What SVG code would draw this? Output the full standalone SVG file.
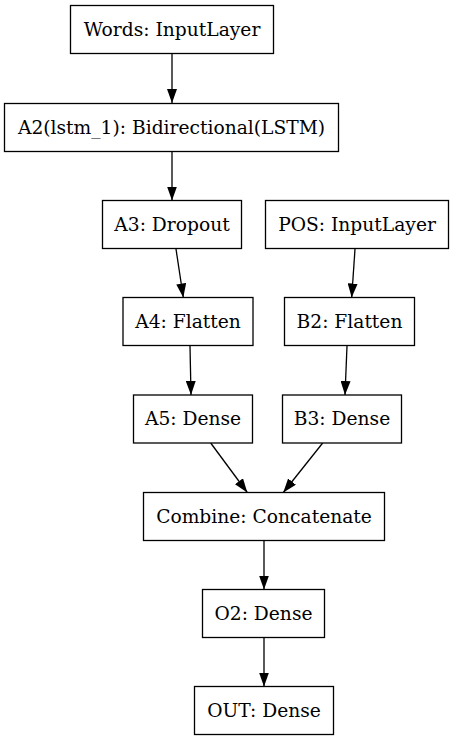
<svg xmlns="http://www.w3.org/2000/svg" width="454" height="741" viewBox="0 0 454 741">
<style>
.n rect{fill:#fff;stroke:#000;stroke-width:1.3}
.n text{font-family:"DejaVu Serif",serif;font-size:18.67px;text-anchor:middle;fill:#000}
#edges path{stroke:#000;stroke-width:1.3;fill:none;marker-end:url(#ah)}
</style>
<defs>
<marker id="ah" viewBox="0 0 14 10" refX="14" refY="5" markerWidth="14" markerHeight="10" markerUnits="userSpaceOnUse" orient="auto">
<path d="M0,0 L14,5 L0,10 z" fill="#000"/>
</marker>
</defs>
<rect width="454" height="741" fill="#fff"/>
<g id="edges">
<path d="M172,54 L172,103"/>
<path d="M172,151.5 L172,200.5"/>
<path d="M176,249 L183.3,297.5"/>
<path d="M355,249 L351.7,297.5"/>
<path d="M190,346 L191,395"/>
<path d="M347,346 L345,395"/>
<path d="M210.7,443 L247.3,492.5"/>
<path d="M322.7,443 L283.3,492.5"/>
<path d="M264,541 L264,589.5"/>
<path d="M264,638 L264,686.5"/>
</g>
<g id="words" class="n"><rect x="70.5" y="5.5" width="203" height="48"/><text x="172" y="35.5">Words: InputLayer</text></g>
<g id="a2" class="n"><rect x="4.5" y="103.5" width="334" height="48"/><text x="171.5" y="133.5">A2(lstm_1): Bidirectional(LSTM)</text></g>
<g id="a3" class="n"><rect x="102.5" y="200.5" width="139" height="48"/><text x="172" y="230.5">A3: Dropout</text></g>
<g id="pos" class="n"><rect x="265.5" y="200.5" width="183" height="48"/><text x="357" y="230.5">POS: InputLayer</text></g>
<g id="a4" class="n"><rect x="123" y="297.5" width="130" height="48"/><text x="188" y="327.5">A4: Flatten</text></g>
<g id="b2" class="n"><rect x="284.5" y="297.5" width="130" height="48"/><text x="349.5" y="327.5">B2: Flatten</text></g>
<g id="a5" class="n"><rect x="133.5" y="395" width="119" height="48"/><text x="193" y="425">A5: Dense</text></g>
<g id="b3" class="n"><rect x="282.5" y="395" width="119" height="48"/><text x="342" y="425">B3: Dense</text></g>
<g id="combine" class="n"><rect x="143.5" y="492.5" width="241" height="48"/><text x="264" y="522.5">Combine: Concatenate</text></g>
<g id="o2" class="n"><rect x="202.5" y="589.5" width="122" height="48"/><text x="263.5" y="619.5">O2: Dense</text></g>
<g id="out" class="n"><rect x="194.5" y="686.5" width="139" height="48"/><text x="264" y="716.5">OUT: Dense</text></g>
</svg>
